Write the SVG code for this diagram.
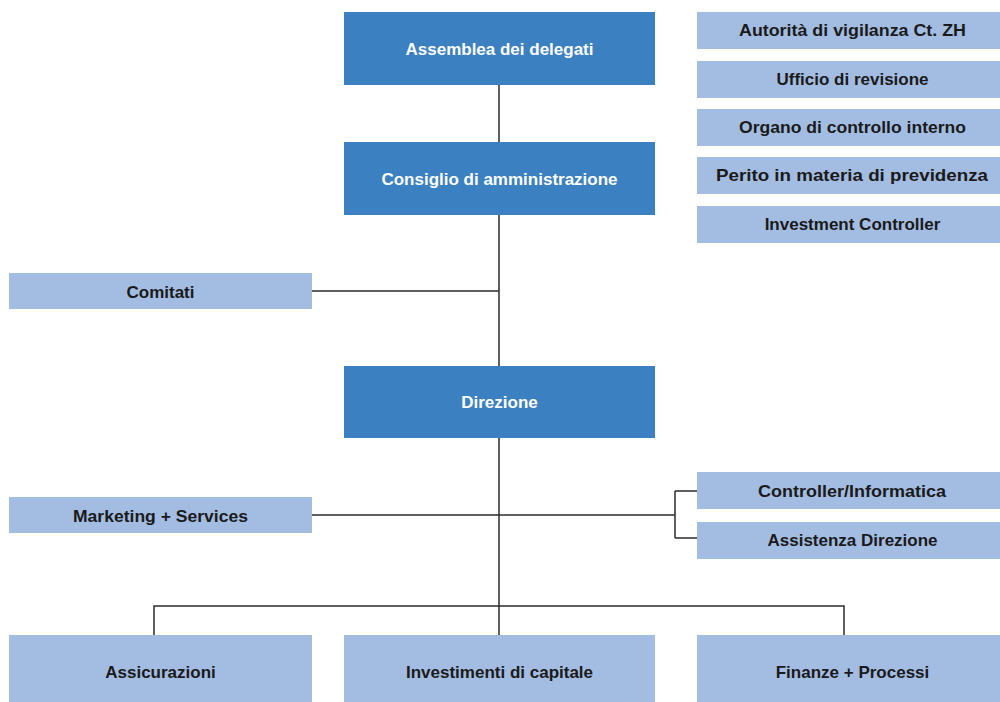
<svg xmlns="http://www.w3.org/2000/svg" width="1000" height="702" viewBox="0 0 1000 702">
<style>
.dark{fill:#3b80c1}
.light{fill:#a3bde2}
text{font-family:"Liberation Sans",Arial,sans-serif;font-weight:bold;font-size:17px;text-anchor:middle}
.dt{fill:#ffffff}
.lt{fill:#1a1a1a}
.conn{stroke:#2b2b2b;stroke-width:1.5;fill:none}
</style>
<rect width="1000" height="702" fill="#ffffff"/>
<g id="connectors">
<path class="conn" d="M499 85V366M312 291H499M499 438V635M312 515H675M675 491V538M675 491H697M675 538H697M154 635V606H844V635"/>
</g>
<g id="assemblea"><rect class="dark" x="344" y="12" width="311" height="73"/><text class="dt" x="499.5" y="55">Assemblea dei delegati</text></g>
<g id="consiglio"><rect class="dark" x="344" y="142" width="311" height="73"/><text class="dt" x="499.5" y="185">Consiglio di amministrazione</text></g>
<g id="direzione"><rect class="dark" x="344" y="366" width="311" height="72"/><text class="dt" x="499.5" y="408">Direzione</text></g>
<g id="autorita"><rect class="light" x="697" y="12" width="303" height="37"/><text class="lt" x="852.5" y="36" textLength="227" lengthAdjust="spacingAndGlyphs">Autorità di vigilanza Ct. ZH</text></g>
<g id="ufficio"><rect class="light" x="697" y="61" width="303" height="37"/><text class="lt" x="852.5" y="85">Ufficio di revisione</text></g>
<g id="organo"><rect class="light" x="697" y="109" width="303" height="37"/><text class="lt" x="852.5" y="133" textLength="227" lengthAdjust="spacingAndGlyphs">Organo di controllo interno</text></g>
<g id="perito"><rect class="light" x="697" y="157" width="303" height="37"/><text class="lt" x="852" y="181" textLength="272" lengthAdjust="spacingAndGlyphs">Perito in materia di previdenza</text></g>
<g id="investment"><rect class="light" x="697" y="206" width="303" height="37"/><text class="lt" x="852.5" y="230">Investment Controller</text></g>
<g id="comitati"><rect class="light" x="9" y="273" width="303" height="36"/><text class="lt" x="160.5" y="298">Comitati</text></g>
<g id="marketing"><rect class="light" x="9" y="497" width="303" height="36"/><text class="lt" x="160.5" y="522" textLength="175" lengthAdjust="spacingAndGlyphs">Marketing + Services</text></g>
<g id="controller"><rect class="light" x="697" y="472" width="303" height="37"/><text class="lt" x="852" y="497" textLength="188" lengthAdjust="spacingAndGlyphs">Controller/Informatica</text></g>
<g id="assistenza"><rect class="light" x="697" y="522" width="303" height="37"/><text class="lt" x="852.5" y="546">Assistenza Direzione</text></g>
<g id="assicurazioni"><rect class="light" x="9" y="635" width="303" height="67"/><text class="lt" x="160.5" y="678">Assicurazioni</text></g>
<g id="investimenti"><rect class="light" x="344" y="635" width="311" height="67"/><text class="lt" x="499.5" y="678">Investimenti di capitale</text></g>
<g id="finanze"><rect class="light" x="697" y="635" width="303" height="67"/><text class="lt" x="852.5" y="678">Finanze + Processi</text></g>
</svg>
